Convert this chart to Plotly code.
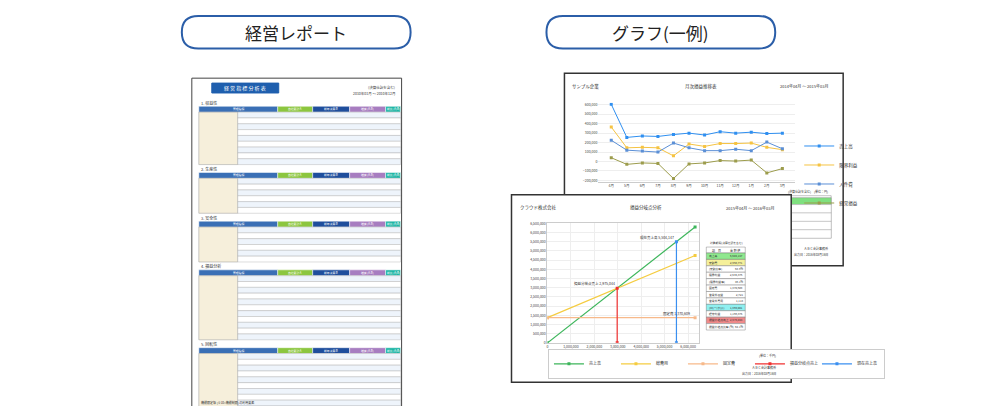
import plotly.graph_objects as go

# monthly chart (yen)
months = ['4月', '5月', '6月', '7月', '8月', '9月', '10月', '11月', '12月', '1月', '2月', '3月']
sales = [605000, 255000, 270000, 265000, 285000, 300000, 280000, 315000, 300000, 310000, 295000, 300000]
marginal_profit = [365000, 145000, 150000, 145000, 60000, 185000, 160000, 190000, 190000, 195000, 150000, 125000]
personnel = [225000, 120000, 110000, 100000, 195000, 145000, 115000, 115000, 130000, 115000, 205000, 135000]
ordinary = [40000, -30000, -15000, -20000, -180000, -25000, -15000, 10000, 5000, 15000, -120000, -75000]

# break-even chart
be_x = [0, 6300000]
be_sales = [0, 6300000]
be_total_cost = [1370609, 4750000]
be_fixed = [1370609, 1370609]
be_point = 2975044
current_sales = 5504147

sections = ['1. 収益性', '2. 生産性', '3. 安全性', '4. 損益分析', '5. 回転性']
section_rows = [9, 6, 6, 11, 11]
header_cols = ['管理指標', '自社累計 A', '前年決算 B', '増減 (A-B)', '前比 (A/B)']

fig = go.Figure()

line_colors = ['#2f8ff0', '#f5c342', '#5b8fd6', '#9c9c4c']
for name, vals, c in zip(['売上高', '限界利益', '人件費', '経常損益'],
                         [sales, marginal_profit, personnel, ordinary], line_colors):
    fig.add_trace(go.Scatter(x=months, y=vals, name=name, mode='lines+markers',
                             line=dict(color=c, width=1), marker=dict(symbol='square', size=3, color=c),
                             xaxis='x', yaxis='y', legend='legend'))

be_series = [('売上高', be_x, be_sales, '#3cb55a'), ('総費用', be_x, be_total_cost, '#f5cc40'),
             ('固定費', be_x, be_fixed, '#f7b98a')]
for name, xs, ys, c in be_series:
    fig.add_trace(go.Scatter(x=xs, y=ys, name=name, mode='lines+markers', line=dict(color=c, width=1.2),
                             marker=dict(symbol='square', size=3, color=c), xaxis='x2', yaxis='y2', legend='legend2'))
fig.add_trace(go.Scatter(x=[be_point, be_point], y=[0, be_point], name='損益分岐点売上', mode='lines+markers',
                         line=dict(color='#f03030', width=1.2), marker=dict(symbol='square', size=3),
                         xaxis='x2', yaxis='y2', legend='legend2'))
fig.add_trace(go.Scatter(x=[current_sales, current_sales], y=[0, current_sales], name='現在売上高',
                         mode='lines+markers', line=dict(color='#3a8ff0', width=1.2),
                         marker=dict(symbol='square', size=3), xaxis='x2', yaxis='y2', legend='legend2'))

shapes = []
ann = []


def px(x):
    return x / 1000


def py(y):
    return 1 - y / 406


def rect(x0, y0, x1, y1, fill='white', line='#555', w=1):
    shapes.append(dict(type='rect', xref='paper', yref='paper', x0=px(x0), y0=py(y0), x1=px(x1), y1=py(y1),
                       fillcolor=fill, line=dict(color=line, width=w), layer='below'))


def text(x, y, s, size=5, color='#333', anchor='left'):
    ann.append(dict(xref='paper', yref='paper', x=px(x), y=py(y), text=s, showarrow=False,
                    xanchor=anchor, yanchor='middle', font=dict(size=size, color=color)))


def pill(x0, x1, y0, y1, label):
    r = (y1 - y0) / 2
    pts = [(x0 + r, y0), (x1 - r, y0), (x1, y0), (x1, y0 + r), (x1, y1), (x1 - r, y1), (x0 + r, y1),
           (x0, y1), (x0, y0 + r), (x0, y0), (x0 + r, y0)]
    p = [(px(a), py(b)) for a, b in pts]
    path = ('M %f,%f L %f,%f Q %f,%f %f,%f Q %f,%f %f,%f L %f,%f Q %f,%f %f,%f Q %f,%f %f,%f Z'
            % tuple(v for pt in p for v in pt))
    shapes.append(dict(type='path', xref='paper', yref='paper', path=path, fillcolor='white',
                       line=dict(color='#2b5ea8', width=2), layer='below'))
    text((x0 + x1) / 2, (y0 + y1) / 2, label, size=17, color='#222', anchor='center')


pill(173, 402, 5, 38, '経営レポート')
pill(538, 767, 5, 38, 'グラフ(一例)')

# left report sheet
rect(183, 68, 393, 403, line='#444')
rect(203, 73, 270, 83, fill='#1f5fae', line='#1f5fae')
text(236, 78, '経 営 指 標 分 析 表', size=5, color='white', anchor='center')
text(388, 77, '(決算仕訳を含む)', size=3.5, anchor='right')
text(388, 84, '2010年01月 ～ 2010年12月', size=3.5, anchor='right')
col_x = [190, 269, 304, 341, 377, 392]
col_c = ['#3a6fb5', '#8cc63f', '#1f4e9c', '#a77dc0', '#1fb5a5']
y = 93
row_h = 5.9
for sec, n in zip(sections, section_rows):
    text(190, y, sec, size=4)
    y += 3.5
    for i in range(5):
        rect(col_x[i], y, col_x[i + 1], y + row_h, fill=col_c[i], line='white', w=0.5)
        text((col_x[i] + col_x[i + 1]) / 2, y + row_h / 2, header_cols[i], size=2.8, color='white',
             anchor='center')
    y += row_h
    rect(190, y, 229, y + n * row_h, fill='#f6efdb', line='#999', w=0.5)
    for r in range(n):
        rect(229, y + r * row_h, 392, y + (r + 1) * row_h, fill='#eef4fb' if r % 2 == 0 else 'white',
             line='#aaa', w=0.4)
    y += n * row_h + 4.5
text(190, 396, '機能限定版 (※10=機能制限) の利用要素', size=3)

# back chart sheet
rect(556, 63, 835, 258, line='#333', w=1.5)
text(562, 76, 'サンプル企業', size=4.5)
text(693, 76, '月次損益推移表', size=4.5, anchor='center')
text(822, 76, '2014年04月 ～ 2015年03月', size=4, anchor='right')
rect(676, 187, 823, 230, fill='white', line='#888', w=0.5)
rect(730, 189, 823, 196, fill='#7fe07f', line='#888', w=0.5)
for r in range(4):
    rect(676, 196 + r * 8.5, 823, 204.5 + r * 8.5, fill='white', line='#999', w=0.4)
text(822, 183, '(決算仕訳を含む)　(単位：円)', size=3, anchor='right')
text(822, 240, 'ＡＢＣ会計事務所', size=3, anchor='right')
text(822, 247, '出力日：2016年03月16日', size=3, anchor='right')

# front break-even sheet
rect(503, 186, 783, 376, line='#333', w=1.5)
text(510, 199, 'クラウド株式会社', size=4.5)
text(638, 199, '損益分岐点分析', size=4.5, anchor='center')
text(768, 199, '2015年04月 ～ 2016年03月', size=4, anchor='right')
tbl_rows = ['売上高', '変動費', '(変動比率)', '限界利益', '(限界利益率)', '固定費', '営業外収益',
            '営業外費用', '(ロ)ー(ホ)(ﾄ)', '経常利益', '損益分岐点売上', '損益分岐点比率 (%)']
tbl_vals = ['5,504,147', '2,968,771', '53.9%', '2,535,376', '46.1%', '1,370,609', '2,721',
            '1,113', '1,369,001', '1,166,375', '2,975,044', '54.1%']
tbl_fill = {0: '#8fe88f', 1: '#f5f09a', 8: '#8ff0f0', 10: '#f08a8a'}
text(737, 235, '対象期間(決算仕訳を含む)', size=2.8, anchor='right')
rect(698, 239, 737, 245, fill='white', line='#666', w=0.4)
text(708, 242, '項　目', size=3, anchor='center')
text(727, 242, '金 額 値', size=3, anchor='center')
for i, (lab, v) in enumerate(zip(tbl_rows, tbl_vals)):
    y0 = 245 + i * 6.5
    rect(698, y0, 737, y0 + 6.5, fill=tbl_fill.get(i, 'white'), line='#666', w=0.4)
    text(699, y0 + 3.2, lab, size=2.8)
    text(736.5, y0 + 3.2, v, size=2.8, anchor='right')
text(770, 349, '(単位：千円)', size=3, anchor='right')
text(770, 361, 'ＡＢＣ会計事務所', size=3, anchor='right')
text(770, 367, '出力日：2016年03月16日', size=3, anchor='right')

ann += [
    dict(xref='x2', yref='y2', x=be_point, y=be_point, text='損益分岐点売上 2,975,044', showarrow=False,
         xanchor='right', yanchor='bottom', font=dict(size=3.5, color='#333')),
    dict(xref='x2', yref='y2', x=current_sales, y=current_sales, text='現在売上高 5,504,147', showarrow=False,
         xanchor='right', yanchor='bottom', font=dict(size=3.5, color='#333')),
    dict(xref='x2', yref='y2', x=current_sales, y=be_fixed[0], text='固定費 1,370,609', showarrow=False,
         xanchor='center', yanchor='bottom', font=dict(size=3.5, color='#333')),
]

ax_font = dict(size=3.5, color='#444')
fig.update_layout(
    width=1000, height=406, margin=dict(l=0, r=0, t=0, b=0),
    paper_bgcolor='white', plot_bgcolor='rgba(0,0,0,0)',
    font=dict(family='Noto Sans CJK JP', color='#333'),
    shapes=shapes, annotations=ann,
    xaxis=dict(domain=[0.590, 0.787], showgrid=False, tickfont=ax_font, ticks='', showline=True,
               linecolor='#ccc', linewidth=0.5, anchor='y'),
    yaxis=dict(domain=[1 - 173 / 406, 1 - 93 / 406], range=[-215000, 620000], dtick=100000,
               tickformat=',', tickfont=ax_font, gridcolor='#eee', gridwidth=0.5, zeroline=False, anchor='x'),
    xaxis2=dict(domain=[0.539, 0.691], range=[0, 6480000], dtick=1000000, tickformat=',', tickfont=ax_font,
                gridcolor='#eee', gridwidth=0.5, zeroline=False, showline=True, linecolor='#ccc', mirror=True,
                anchor='y2'),
    yaxis2=dict(domain=[1 - 336 / 406, 1 - 215 / 406], range=[0, 6500000], dtick=500000, tickformat=',',
                tickfont=ax_font, gridcolor='#eee', gridwidth=0.5, zeroline=False, anchor='x2',
                showline=True, linecolor='#ccc', mirror=True),
    legend=dict(x=0.791, y=1 - 122 / 406, xanchor='left', yanchor='top', font=dict(size=4.5),
                bgcolor='rgba(0,0,0,0)', itemwidth=30, tracegroupgap=0),
    legend2=dict(x=0.540, y=1 - 342 / 406, xanchor='left', yanchor='top', orientation='h',
                 font=dict(size=4), bgcolor='white', bordercolor='#999', borderwidth=0.5, itemwidth=30,
                 entrywidth=22, entrywidthmode='pixels'),
    showlegend=True,
)
fig.write_html('out.html')
